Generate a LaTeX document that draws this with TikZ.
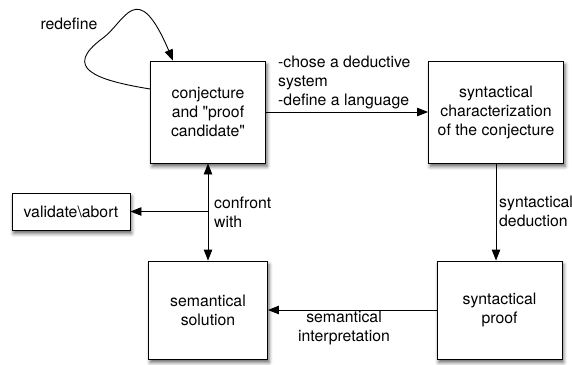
\documentclass[tikz,border=0pt]{standalone}
\usepackage{fontspec}
\setmainfont{TeX Gyre Heros}[Ligatures=TeXOff]
\usetikzlibrary{arrows.meta,shadows.blur}
\begin{document}
\begin{tikzpicture}[x=1pt,y=-1pt,
  every node/.style={font=\fontsize{15.8}{19}\selectfont},
  box/.style={draw, line width=0.9pt, fill=white, align=center, inner sep=2pt,
    blur shadow={shadow xshift=1.5pt, shadow yshift=-3.5pt, shadow blur radius=3.5pt, shadow opacity=60}},
  lbl/.style={inner sep=0pt, align=left},
  tip/.tip={Triangle[length=11pt,width=8.5pt]},
  arr/.style={line width=0.9pt, -tip}]
\useasboundingbox (0,0) rectangle (572,364);
\node[box, minimum width=115pt, minimum height=102pt] (conj) at (208,112) {conjecture\\and "proof\\candidate"};
\node[box, minimum width=135pt, minimum height=102pt] (synch) at (496,112) {syntactical\\characterization\\of the conjecture};
\node[box, minimum width=118pt, minimum height=37pt] (val) at (71,211.5) {validate\textbackslash abort};
\node[box, minimum width=119pt, minimum height=98pt] (sol) at (208,310) {semantical\\solution};
\node[box, minimum width=125pt, minimum height=98pt] (proof) at (499.5,310) {syntactical\\proof};

\draw[arr] (conj) -- (synch);
\draw[arr] (synch.south) -- (synch.south |- proof.north);
\draw[arr] (proof) -- (sol);
\draw[arr, tip-tip] (conj) -- (sol);
\coordinate (j) at (conj.south |- val.east);
\draw[arr] (j) -- (val);
\draw[arr] ([yshift=23pt]conj.west) .. controls (95,80) and (62,68) .. (103,38)
  .. controls (125,22) and (137,-24) .. ([xshift=-35pt]conj.north);

\node[lbl, anchor=west] (l1) at (278,82) {-chose a deductive\\system\\-define a language};
\node[lbl, anchor=west] (l2) at (499,211) {syntactical\\deduction};
\node[lbl, align=center] (l3) at (344,328) {semantical\\interpretation};
\node[lbl, anchor=west] (l4) at (214,212) {confront\\with};
\node[lbl] (l5) at (69,24) {redefine};
\end{tikzpicture}
\end{document}
